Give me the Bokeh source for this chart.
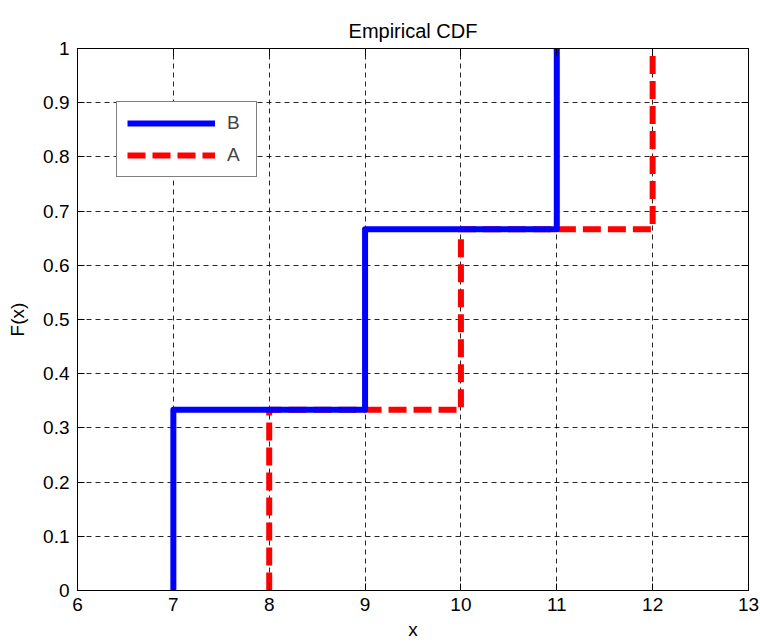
from bokeh.plotting import figure
from bokeh.models import (Range1d, FixedTicker, LinearAxis, Legend, LegendItem)
from bokeh.embed import file_html
from bokeh.resources import INLINE

# ---- data (empirical CDF step points) ----
b_x = [7, 7, 9, 9, 11, 11]
b_F = [0, 1/3, 1/3, 2/3, 2/3, 1]
a_x = [8, 8, 10, 10, 12, 12]
a_F = [0, 1/3, 1/3, 2/3, 2/3, 1]

x_ticks = [6, 7, 8, 9, 10, 11, 12, 13]
x_tick_labels = ["6", "7", "8", "9", "10", "11", "12", "13"]
y_ticks = [0, 0.1, 0.2, 0.3, 0.4, 0.5, 0.6, 0.7, 0.8, 0.9, 1]
y_tick_labels = ["0", "0.1", "0.2", "0.3", "0.4", "0.5", "0.6", "0.7", "0.8", "0.9", "1"]

title_text = "Empirical CDF"
x_label = "x"
y_label = "F(x)"

FONT = "Liberation Sans"
FS = "19px"

p = figure(width=760, height=642, output_backend="svg", toolbar_location=None,
           x_range=Range1d(6, 13), y_range=Range1d(0, 1),
           min_border_left=77, min_border_right=12, min_border_top=48, min_border_bottom=52,
           x_axis_location=None, y_axis_location=None)
p.outline_line_color = "black"
p.outline_line_width = 1
p.background_fill_color = "white"
p.border_fill_color = "white"

p.title.text = title_text
p.title.align = "center"
p.title.vertical_align = "top"
p.title.text_font = FONT
p.title.text_font_size = "20px"
p.title.text_font_style = "normal"
p.title.text_color = "black"
p.title.text_line_height = 1.6
p.title.standoff = 10

def make_axis(ticks, labels, show_labels):
    ax = LinearAxis(ticker=FixedTicker(ticks=ticks))
    ax.major_label_overrides = {t: (l if show_labels else "") for t, l in zip(ticks, labels)}
    ax.major_tick_in = 7
    ax.major_tick_out = 0
    ax.minor_tick_in = 0
    ax.minor_tick_out = 0
    ax.axis_line_color = "black"
    ax.major_tick_line_color = "black"
    ax.major_label_text_font = FONT
    ax.major_label_text_font_size = FS if show_labels else "0px"
    ax.major_label_text_color = "black"
    ax.major_label_standoff = 6 if show_labels else 0
    ax.axis_label_text_font = FONT
    ax.axis_label_text_font_size = FS
    ax.axis_label_text_font_style = "normal"
    ax.axis_label_text_color = "black"
    return ax

xb = make_axis(x_ticks, x_tick_labels, True)
xb.axis_label = x_label
xb.major_label_standoff = 7
xb.axis_label_standoff = 5
yl = make_axis(y_ticks, y_tick_labels, True)
yl.major_label_standoff = 8
yl.axis_label = y_label
yl.axis_label_standoff = 12
xt = make_axis(x_ticks, x_tick_labels, False)
yr = make_axis(y_ticks, y_tick_labels, False)
p.add_layout(xb, "below")
p.add_layout(yl, "left")
p.add_layout(xt, "above")
p.add_layout(yr, "right")

p.xgrid.ticker = FixedTicker(ticks=x_ticks)
p.ygrid.ticker = FixedTicker(ticks=y_ticks)
for g in (p.xgrid, p.ygrid):
    g.grid_line_color = "black"
    g.grid_line_width = 1
    g.grid_line_dash = "5 4"
    g.grid_line_alpha = 0.85

ra = p.line(a_x, a_F, line_color="#ff0000", line_width=6, line_dash="18 7")
rb = p.line(b_x, b_F, line_color="#0000ff", line_width=6, line_join="round")

legend = Legend(items=[LegendItem(label="B", renderers=[rb]),
                       LegendItem(label="A", renderers=[ra])],
                location=(39, 413), margin=0, padding=10, spacing=10,
                glyph_width=88, glyph_height=20, label_height=20, label_width=19,
                label_standoff=12,
                label_text_font=FONT, label_text_font_size=FS,
                border_line_color="black", border_line_width=1,
                background_fill_color="white", background_fill_alpha=1)
p.add_layout(legend)

open("out.html", "w").write(file_html(p, INLINE))
